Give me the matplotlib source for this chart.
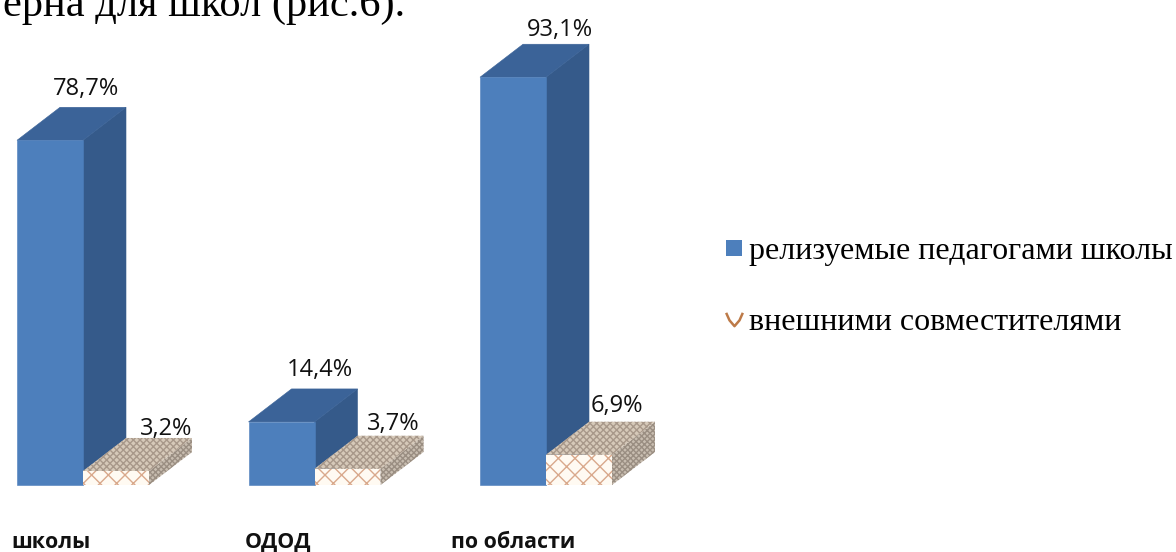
import matplotlib
matplotlib.use("Agg")
import matplotlib.pyplot as plt
from matplotlib.lines import Line2D
from matplotlib.path import Path

categories = ["школы", "ОДОД", "по области"]
teachers = [78.7, 14.4, 93.1]
external = [3.2, 3.7, 6.9]
value_labels_a = ["78,7%", "14,4%", "93,1%"]
value_labels_b = ["3,2%", "3,7%", "6,9%"]
series_names = ["релизуемые педагогами школы", "внешними совместителями"]
heading = "ерна для школ (рис.6)."

W, H, DPI = 1176, 552, 100
plt.rcParams["hatch.linewidth"] = 1.0
fig = plt.figure(figsize=(W / DPI, H / DPI), dpi=DPI)
fig.patch.set_facecolor("white")

# axes: x unit = one category group, y unit = one percent
LEFT, UNIT, BASE, PPU = 17, 231.5, 485, 4.38
BAR = 66 / UNIT
DX = 43 / UNIT
DY = 33 / PPU
ax = fig.add_axes([LEFT / W, (H - BASE) / H, UNIT * 3 / W, PPU * 100 / H])
ax.set_xlim(0, 3)
ax.set_ylim(0, 100)
ax.axis("off")


def box(x, v, front, top, side, hatches=None):
    fr = [(x, 0), (x + BAR, 0), (x + BAR, v), (x, v)]
    tp = [(x, v), (x + BAR, v), (x + BAR + DX, v + DY), (x + DX, v + DY)]
    sd = [(x + BAR, 0), (x + BAR + DX, DY), (x + BAR + DX, v + DY), (x + BAR, v)]
    hatches = hatches or {}
    for pts, c, key in ((sd, side, "side"), (tp, top, "top"), (fr, front, "front")):
        hc = hatches.get(key)
        xs, ys = zip(*pts)
        if hc:
            ax.fill(xs, ys, facecolor=c, edgecolor=hc[1], hatch=hc[0], linewidth=0, clip_on=False)
        else:
            ax.fill(xs, ys, facecolor=c, edgecolor=c, linewidth=0.4, clip_on=False)


tex = {"front": ("xx", "#d9a98c"), "top": ("xxxxx", "#a8988a"), "side": ("xxxxxx", "#9a8e82")}
for i in range(3):
    box(i, teachers[i], "#4d7fbc", "#3b6398", "#355a8a")
    box(i + BAR, external[i], "#fffaf2", "#d6c9b9", "#c8bdb0", tex)

off_a = [(69, 18), (71, 19), (80, 14)]
off_b = [(83, 9), (79, 12), (71, 16)]
for i in range(3):
    ax.annotate(value_labels_a[i], (i, teachers[i] + DY),
                xytext=(off_a[i][0] * 0.72, off_a[i][1] * 0.72),
                textcoords="offset points", ha="center", va="center", fontsize=17,
                family="Open Sans", color="#111111", annotation_clip=False)
    ax.annotate(value_labels_b[i], (i + BAR, external[i] + DY),
                xytext=(off_b[i][0] * 0.72, off_b[i][1] * 0.72),
                textcoords="offset points", ha="center", va="center", fontsize=17,
                family="Open Sans", color="#111111", annotation_clip=False)

label_x = [11, 245, 451]
for name, px in zip(categories, label_x):
    fig.text(px / W, 1 - 548 / H, name, fontsize=15.4, fontweight="bold",
             family="Open Sans", color="#111111", ha="left", va="baseline")

fig.text(3 / W, 1 - 16 / H, heading, fontsize=30.6, family="Liberation Serif",
         color="black", ha="left", va="baseline")

arc = Path([(-1, 0.8), (-0.6, -0.1), (0, -0.8), (0.6, -0.1), (1, 0.8)],
           [Path.MOVETO, Path.LINETO, Path.LINETO, Path.LINETO, Path.LINETO])
handles = [
    Line2D([], [], linestyle="none", marker="s", markersize=11.5, markerfacecolor="#4d7fbc",
           markeredgecolor="#4d7fbc", markeredgewidth=0),
    Line2D([], [], linestyle="none", marker=arc, markersize=12, markerfacecolor="none",
           markeredgecolor="#bd7a48", markeredgewidth=1.8),
]
fig.legend(handles, series_names, loc="upper left", bbox_to_anchor=(723 / W, 1 - 237 / H),
           frameon=False, handlelength=0.7, handletextpad=0.11,
           labelspacing=1.3, borderpad=0, borderaxespad=0,
           prop={"family": "Liberation Serif", "size": 23})

fig.savefig("out.png", dpi=DPI, facecolor="white")
